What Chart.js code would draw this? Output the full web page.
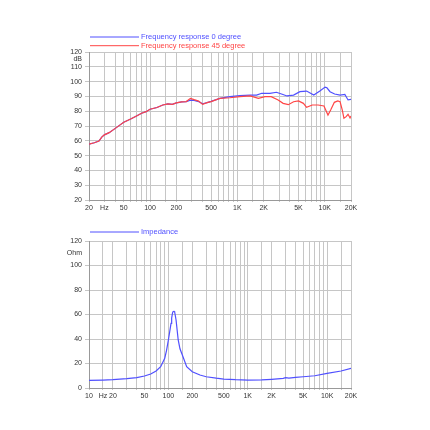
<!DOCTYPE html>
<html>
<head>
<meta charset="utf-8">
<script src="https://cdn.jsdelivr.net/npm/chart.js@4/dist/chart.umd.min.js"></script>
<style>
  html, body { margin: 0; padding: 0; background: #fff; }
  #wrap { position: relative; width: 430px; height: 430px; }
  #wrap canvas { position: absolute; left: 0; }
  #respChart { top: 0; }
  #impChart { top: 215px; }
</style>
</head>
<body>
<div id="wrap">
  <canvas id="respChart" width="430" height="215"></canvas>
  <canvas id="impChart" width="430" height="215"></canvas>
</div>
<script>
// --- data ---
const freq0 = [20, 23, 26, 28, 30, 34, 40, 45, 50, 60, 70, 80, 90, 100, 120, 140, 160, 180, 200, 230, 260,
  290, 320, 360, 400, 450, 500, 630, 820, 1070, 1400, 1660, 1900, 2360, 2800, 3200, 3700, 4400,
  5200, 6200, 7500, 8800, 10100, 10600, 11500, 13000, 15000, 17000, 18500, 20000];
const resp0 = [57.8, 58.7, 59.8, 62.5, 64, 65.5, 68.4, 70.6, 72.5, 74.7, 76.8, 78.6, 79.7, 81.3, 82.5, 84.2, 85.0, 84.6, 85.6, 86.3, 86.5,
  87.5, 87.3, 86.5, 85.0, 85.8, 86.6, 88.7, 89.8, 90.5, 90.9, 90.9, 92.1, 92.1, 92.8, 91.6, 90.3, 90.9,
  93.2, 93.6, 90.9, 93.6, 96.3, 95.8, 93.2, 91.6, 90.9, 91.3, 87.6, 88.0];

const freq45 = [20, 23, 26, 28, 30, 34, 40, 45, 50, 60, 70, 80, 90, 100, 120, 140, 160, 180, 200, 230, 260,
  290, 320, 360, 400, 450, 500, 630, 820, 1070, 1400, 1740, 2070, 2440, 2930, 3340, 3830, 4400,
  5000, 5700, 6200, 7200, 8400, 9800, 10900, 11700, 12900, 14100, 15000, 15900, 16600, 17600, 18500, 19500, 20000];
const resp45 = [57.8, 58.7, 59.8, 62.5, 64, 65.5, 68.4, 70.6, 72.5, 74.7, 76.8, 78.6, 79.7, 81.3, 82.5, 84.2, 85.0, 84.6, 85.6, 86.3, 86.5,
  88.7, 87.8, 86.8, 84.6, 85.8, 86.5, 88.7, 89.1, 89.8, 90.3, 88.7, 89.8, 89.8, 87.6, 85.3, 84.4, 86.4,
  86.9, 85.3, 82.6, 84.2, 84.2, 83.5, 77.4, 80.8, 86.0, 86.9, 86.4, 80.8, 75.2, 76.3, 77.9, 75.4, 76.8];

const impFreq = [10, 15, 20, 30, 40, 50, 60, 70, 80, 90, 95, 100, 104, 108, 110, 113, 115, 118, 120, 122, 125, 133, 140, 150, 170,
  200, 250, 300, 400, 500, 700, 1000, 1500, 2000, 2800, 3000, 3300, 4000, 5000, 7000, 10000, 15000, 20000];
const impOhm = [6.3, 6.5, 6.8, 7.6, 8.4, 9.8, 11.4, 13.9, 17.4, 24.2, 31, 39.2, 46, 52.8, 57, 61.5, 62.5, 62.6, 62, 59.5, 55.5, 39.2, 32, 26.9, 17.4,
  13.3, 10.6, 9.2, 8.0, 7.3, 6.8, 6.5, 6.6, 7.1, 7.8, 8.4, 8.1, 8.6, 9.2, 10.0, 12.0, 13.9, 16.1];

// grid lines and tick labels
const respGridHz = [20, 30, 40, 50, 60, 70, 80, 90, 100, 150, 200, 300, 400, 500, 600, 700, 800, 900,
  1000, 1500, 2000, 3000, 4000, 5000, 6000, 7000, 8000, 9000, 10000, 15000, 20000];
const impGridHz = [10, 15, 20, 30, 40, 50, 60, 70, 80, 90, 100, 150, 200, 300, 400, 500, 600, 700, 800, 900,
  1000, 1500, 2000, 3000, 4000, 5000, 6000, 7000, 8000, 9000, 10000, 15000, 20000];
const respHzLabels = { 20: '20', 30: 'Hz', 50: '50', 100: '100', 200: '200', 500: '500', 1000: '1K', 2000: '2K', 5000: '5K', 10000: '10K', 20000: '20K' };
const impHzLabels = { 10: '10', 15: 'Hz', 20: '20', 50: '50', 100: '100', 200: '200', 500: '500', 1000: '1K', 2000: '2K', 5000: '5K', 10000: '10K', 20000: '20K' };
const dbTicks = [20, 30, 40, 50, 60, 70, 80, 90, 100, 110, 115, 120];
const dbUnitAt = 115;
const ohmTicks = [0, 20, 40, 60, 80, 100, 110, 120];
const ohmUnitAt = 110;

const BLUE = '#5050ff';
const RED = '#ff4545';
const GRID = '#c6c6c6';
const TICK_FONT = { family: '"Liberation Sans", Arial, sans-serif', size: 7 };

// legend drawn as a line sample + coloured text, stacked above the plot
const lineLegend = {
    id: 'lineLegend',
    afterDraw(chart, args, opts) {
        const ctx = chart.ctx;
        const left = chart.chartArea.left;
        ctx.save();
        ctx.font = '7.5px "Liberation Sans", Arial, sans-serif';
        ctx.textBaseline = 'middle';
        chart.data.datasets.forEach((ds, i) => {
            const y = opts.y + i * 8.7;
            ctx.strokeStyle = ds.borderColor;
            ctx.lineWidth = 1;
            ctx.beginPath();
            ctx.moveTo(left + 1, y + 0.5);
            ctx.lineTo(left + 50, y + 0.5);
            ctx.stroke();
            ctx.fillStyle = ds.borderColor;
            ctx.fillText(ds.label, left + 52, y + 0.5);
        });
        ctx.restore();
    }
};

function xyPoints(xs, ys) {
    return xs.map((x, i) => ({ x: x, y: ys[i] }));
}

function freqAxis(min, gridHz, labels) {
    return {
        type: 'logarithmic',
        min: min,
        max: 20000,
        afterBuildTicks: s => { s.ticks = gridHz.map(v => ({ value: v })); },
        afterFit: s => { s.height = s.chart.options.xHeight; },
        ticks: {
            autoSkip: false,
            maxRotation: 0,
            padding: 2,
            color: '#333',
            font: TICK_FONT,
            callback: v => labels[v] || ''
        },
        grid: { color: GRID, lineWidth: 1, tickLength: 2 },
        border: { color: '#999' }
    };
}

function valueAxis(min, max, tickVals, unitAt, unitText) {
    return {
        min: min,
        max: max,
        afterBuildTicks: s => { s.ticks = tickVals.map(v => ({ value: v })); },
        afterFit: s => { s.width = 89; },
        ticks: {
            autoSkip: false,
            padding: 3,
            color: '#333',
            font: TICK_FONT,
            callback: v => (v === unitAt ? unitText : String(v))
        },
        grid: {
            color: c => (c.tick && c.tick.value === unitAt ? 'transparent' : GRID),
            lineWidth: 1,
            tickLength: 4
        },
        border: { color: '#999' }
    };
}

// top: frequency response
new Chart(document.getElementById('respChart'), {
    type: 'line',
    data: {
        datasets: [
            { label: 'Frequency response 0 degree', data: xyPoints(freq0, resp0), borderColor: BLUE, order: 1 },
            { label: 'Frequency response 45 degree', data: xyPoints(freq45, resp45), borderColor: RED, order: 0 }
        ]
    },
    options: {
        responsive: false,
        animation: false,
        xHeight: 15,
        layout: { padding: { left: 0, right: 79, top: 52, bottom: 0 } },
        elements: { line: { borderWidth: 1.2, tension: 0 }, point: { radius: 0 } },
        scales: {
            x: freqAxis(20, respGridHz, respHzLabels),
            y: valueAxis(20, 120, dbTicks, dbUnitAt, 'dB')
        },
        plugins: {
            legend: { display: false },
            tooltip: { enabled: false },
            lineLegend: { y: 36.5 }
        }
    },
    plugins: [lineLegend]
});

// bottom: impedance
new Chart(document.getElementById('impChart'), {
    type: 'line',
    data: {
        datasets: [
            { label: 'Impedance', data: xyPoints(impFreq, impOhm), borderColor: BLUE }
        ]
    },
    options: {
        responsive: false,
        animation: false,
        xHeight: 42,
        layout: { padding: { left: 0, right: 79, top: 26, bottom: 0 } },
        elements: { line: { borderWidth: 1.2, tension: 0 }, point: { radius: 0 } },
        scales: {
            x: freqAxis(10, impGridHz, impHzLabels),
            y: valueAxis(0, 120, ohmTicks, ohmUnitAt, 'Ohm')
        },
        plugins: {
            legend: { display: false },
            tooltip: { enabled: false },
            lineLegend: { y: 16.5 }
        }
    },
    plugins: [lineLegend]
});
</script>
</body>
</html>
